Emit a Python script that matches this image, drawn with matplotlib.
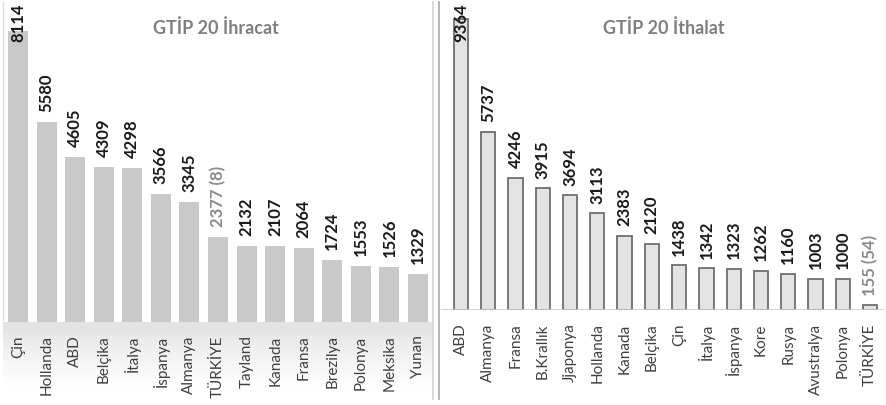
import matplotlib.pyplot as plt
import numpy as np
from matplotlib.lines import Line2D

plt.rcParams['font.family'] = ['Lato', 'DejaVu Sans']

ihr_countries = ['Çin', 'Hollanda', 'ABD', 'Belçika', 'İtalya', 'İspanya', 'Almanya', 'TÜRKİYE',
                 'Tayland', 'Kanada', 'Fransa', 'Brezilya', 'Polonya', 'Meksika', 'Yunan']
ihr_values = [8114, 5580, 4605, 4309, 4298, 3566, 3345, 2377, 2132, 2107, 2064, 1724, 1553, 1526, 1329]
ihr_labels = ['8114', '5580', '4605', '4309', '4298', '3566', '3345', '2377 (8)',
              '2132', '2107', '2064', '1724', '1553', '1526', '1329']

ith_countries = ['ABD', 'Almanya', 'Fransa', 'B.Krallık', 'Jjaponya', 'Hollanda', 'Kanada', 'Belçika',
                 'Çin', 'İtalya', 'İspanya', 'Kore', 'Rusya', 'Avustralya', 'Polonya', 'TÜRKİYE']
ith_values = [9364, 5737, 4246, 3915, 3694, 3113, 2383, 2120, 1438, 1342, 1323, 1262, 1160, 1003, 1000, 155]
ith_labels = ['9364', '5737', '4246', '3915', '3694', '3113', '2383', '2120', '1438', '1342',
              '1323', '1262', '1160', '1003', '1000', '155 (54)']

W, H = 886, 406
fig = plt.figure(figsize=(W / 100, H / 100), dpi=100)

# soft grey band under the left chart (fades out downwards)
bg = fig.add_axes([3 / W, 0, 430 / W, 83 / H], zorder=0)
t = np.linspace(0, 1, 83)  # 0 = bottom, 1 = top (baseline)
vals = 1 - np.clip((t - 0.15) / 0.8, 0, 1) ** 1.3 * 0.11
grad = np.column_stack([vals, vals])
bg.imshow(grad, cmap='gray', vmin=0, vmax=1, aspect='auto', origin='lower',
          extent=[0, 1, 0, 1])
bg.set_axis_off()


def panel(rect, countries, values, labels, ylim, xlim, width, style, grey_idx):
    ax = fig.add_axes(rect, zorder=2)
    ax.patch.set_alpha(0)
    x = np.arange(len(values))
    if style == 'solid':
        ax.bar(x, values, width=width, color='#c9c9c9', edgecolor='none')
    else:
        ax.bar(x, values, width=width, color='#e3e3e3', edgecolor='#6f6f6f', linewidth=1.3)
        ax.axhline(0, color='#c8c8c8', lw=1.2)
    ax.set_xlim(*xlim)
    ax.set_ylim(0, ylim)
    texts = []
    for i, (v, lab) in enumerate(zip(values, labels)):
        col = '#8a8a8a' if i == grey_idx else '#1a1a1a'
        texts.append(ax.text(i, v + ylim * 0.034, lab, rotation=90, ha='center', va='bottom',
                             fontsize=12, fontweight='bold', color=col))
    ax.set_xticks(x)
    ax.set_xticklabels(countries, rotation=90, fontsize=11, color='#404040')
    ax.tick_params(axis='x', length=0, pad=9)
    ax.set_yticks([])
    for s in ax.spines.values():
        s.set_visible(False)
    # keep labels that would run off the top inside the figure
    r = fig.canvas.get_renderer()
    for tx in texts:
        if tx.get_window_extent(r).y1 > fig.bbox.height - 2:
            tx.set_y(ylim * 0.99)
            tx.set_va('top')
    return ax


panel([5 / W, 83 / H, 428 / W, 323 / H], ihr_countries, ihr_values, ihr_labels,
      9005, (-0.455, 14.525), 0.7, 'solid', 7)
panel([441 / W, 95 / H, 443 / W, 311 / H], ith_countries, ith_values, ith_labels,
      10000, (-0.73, 15.51), 0.52, 'outline', 15)

fig.text(216 / W, 1 - 28 / H, 'GTİP 20 İhracat', ha='center', va='center',
         fontsize=13, fontweight='bold', color='#7f7f7f')
fig.text(664 / W, 1 - 28 / H, 'GTİP 20 İthalat', ha='center', va='center',
         fontsize=13, fontweight='bold', color='#7f7f7f')

# separators
fig.add_artist(Line2D([433 / W, 433 / W], [6 / H, 403 / H], color='#d4d4d4', lw=1.2))
fig.add_artist(Line2D([439 / W, 439 / W], [6 / H, 403 / H], color='#a8a8a8', lw=1.2))
fig.add_artist(Line2D([3 / W, 3 / W], [85 / H, 403 / H], color='#dcdcdc', lw=1.0))

fig.savefig('out.png', dpi=100)
